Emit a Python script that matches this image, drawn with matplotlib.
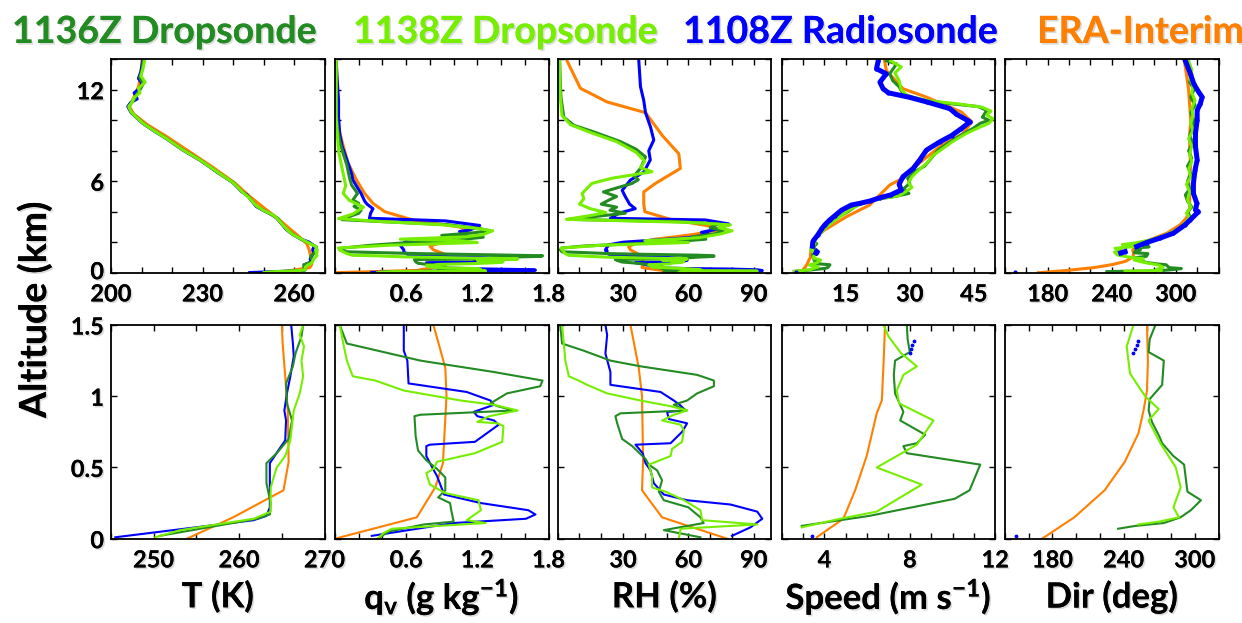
import numpy as np
import matplotlib
matplotlib.use('Agg')
import matplotlib.pyplot as plt
import matplotlib.patheffects as pe
import matplotlib.transforms as mtransforms

plt.rcParams['font.family'] = ['Lato', 'DejaVu Sans']
plt.rcParams['font.weight'] = 'bold'
plt.rcParams['mathtext.fontset'] = 'custom'
plt.rcParams['mathtext.rm'] = 'Lato:bold'
plt.rcParams['mathtext.it'] = 'Lato:bold'
plt.rcParams['mathtext.bf'] = 'Lato:bold'

# colours of the four soundings
c_1136 = '#228B22'
c_1138 = '#76EE00'
c_1108 = '#0000FF'
c_era = '#FF7F00'

# (value, altitude km) pairs
# temperature K
t_1108 = [(245.5,0.01),(261.7,0.13),(263.2,0.16),(263.6,0.22),(263.6,0.53),(264.6,0.62),(265.4,0.69),
          (265.5,0.83),(265.3,0.9),(265.6,1.02),(266.0,1.14),(266.4,1.28),(266.3,1.37),(266.1,1.5),
          (266.6,1.75),(265.0,2.0),(262.4,2.2),(259.6,2.5),(257.4,2.85),(255.3,3.35),(254.2,3.6),
          (252.8,3.8),(249.8,4.1),(247.6,4.35),(245.4,4.9),(244.6,5.1),(242.7,5.35),(240.0,5.9),
          (234.5,6.65),(229.0,7.4),(223.5,8.05),(218.1,8.8),(213.7,9.35),(210.4,9.8),(208.2,10.2),
          (206.6,10.5),(205.5,10.9),(206.4,11.15),(208.6,11.4),(207.6,11.8),(209.4,12.1),(210.2,12.4),
          (209.0,12.75),(209.8,13.2),(210.4,13.9)]
t_1136 = [(250.7,0.02),(262.1,0.14),(263.6,0.17),(263.7,0.25),(263.2,0.39),(263.2,0.53),(264.4,0.6),
          (265.8,0.7),(266.2,0.83),(265.6,0.95),(265.5,1.09),(266.3,1.21),(266.6,1.3),(267.3,1.42),
          (267.5,1.5),(267.3,1.7),(265.5,1.9),(262.6,2.16),(259.8,2.5),(257.5,2.85),(255.5,3.35),
          (254.8,3.55),(253.2,3.75),(250.0,4.1),(247.8,4.35),(245.0,5.0),(243.0,5.3),(240.2,5.9),
          (234.7,6.6),(229.2,7.4),(223.7,8.05),(218.3,8.8),(213.9,9.35),(210.6,9.8),(208.4,10.2),
          (206.8,10.5),(205.9,10.85),(206.5,11.1),(207.8,11.4),(208.4,11.7),(209.5,12.0),(210.6,12.4),
          (209.4,12.8),(210.2,13.3),(210.6,13.9)]
t_1138 = [(250.2,0.01),(253.1,0.06),(261.7,0.14),(263.7,0.19),(263.7,0.36),(264.4,0.5),(265.4,0.58),
          (266.0,0.69),(266.4,0.9),(267.1,1.02),(267.5,1.14),(267.3,1.25),(267.6,1.35),(267.1,1.43),
          (267.5,1.5),(267.2,1.7),(265.3,1.9),(262.5,2.2),(259.6,2.5),(257.6,2.85),(255.6,3.3),
          (254.3,3.6),(253.0,3.8),(249.9,4.1),(247.6,4.4),(245.1,4.95),(242.8,5.35),(240.1,5.9),
          (234.6,6.65),(229.1,7.4),(223.6,8.05),(218.2,8.8),(213.8,9.35),(210.5,9.8),(208.3,10.2),
          (206.6,10.55),(205.8,10.9),(207.0,11.2),(207.6,11.5),(209.5,11.8),(209.0,12.1),(211.2,12.5),
          (209.8,12.9),(210.5,13.4),(211.0,13.9)]
t_era = [(253.9,0.0),(259.3,0.15),(265.2,0.34),(265.8,0.54),(265.7,0.9),(265.4,1.14),(265.1,1.37),
         (265.0,1.5),(264.2,1.9),(261.5,2.4),(258.5,2.9),(255.0,3.5),(250.5,4.2),(245.5,5.0),
         (240.5,5.9),(233.5,6.9),(226.0,7.9),(218.5,8.9),(212.0,9.7),(207.5,10.4),(206.0,10.9),
         (207.5,11.5),(209.0,12.2),(209.8,13.0),(210.2,14.0)]

# water vapour mixing ratio g/kg
q_1108 = [(0.31,0.02),(1.0,0.11),(1.61,0.14),(1.69,0.17),(1.63,0.2),(1.23,0.25),(0.92,0.31),(0.86,0.44),
          (0.82,0.5),(0.77,0.58),(0.77,0.65),(0.8,0.66),(1.18,0.68),(1.38,0.8),(1.34,0.83),(1.2,0.86),
          (1.17,0.89),(1.34,0.94),(1.31,0.97),(1.11,1.03),(0.62,1.09),(0.61,1.25),(0.58,1.32),(0.58,1.5),
          (0.55,1.8),(0.6,2.05),(0.65,2.15),(0.9,2.25),(1.1,2.45),(1.05,2.7),(1.14,2.8),(1.22,3.1),
          (0.93,3.4),(0.29,3.57),(0.3,3.9),(0.32,4.2),(0.27,4.5),(0.25,4.7),(0.22,5.2),(0.18,5.7),
          (0.15,6.1),(0.14,6.5),(0.1,7.4),(0.06,8.3),(0.04,9.1),(0.03,10.2),(0.03,11.3),(0.02,12.5),
          (0.01,13.9)]
q_1136 = [(0.38,0.01),(0.45,0.05),(0.75,0.1),(1.0,0.12),(0.98,0.2),(0.97,0.25),(0.87,0.29),(0.93,0.34),
          (0.93,0.43),(0.86,0.49),(0.77,0.55),(0.7,0.62),(0.68,0.72),(0.67,0.86),(0.72,0.87),(1.51,0.9),
          (1.37,0.93),(1.31,0.95),(1.45,1.02),(1.73,1.07),(1.75,1.11),(1.34,1.17),(0.72,1.25),(0.1,1.37),
          (0.04,1.5),(0.05,1.6),(0.3,1.8),(0.66,2.0),(1.0,2.12),(1.25,2.33),(0.9,2.45),(1.15,2.6),
          (1.3,2.75),(1.22,2.9),(0.95,3.15),(0.4,3.35),(0.06,3.48),(0.12,3.68),(0.2,3.9),(0.22,4.1),
          (0.16,4.35),(0.2,4.55),(0.15,4.77),(0.19,5.2),(0.14,5.75),(0.12,6.3),(0.1,7.06),(0.07,7.8),
          (0.04,8.6),(0.02,9.5),(0.01,10.5),(0.01,12.0),(0.01,13.9)]
q_1138 = [(0.36,0.0),(0.41,0.04),(0.48,0.07),(1.27,0.11),(1.11,0.13),(1.23,0.2),(1.21,0.27),(0.93,0.32),
          (0.8,0.38),(0.77,0.46),(0.83,0.49),(0.86,0.54),(1.18,0.6),(1.41,0.68),(1.42,0.79),(1.37,0.81),
          (1.2,0.82),(1.3,0.86),(1.54,0.9),(1.34,0.94),(1.06,0.97),(0.58,1.04),(0.34,1.11),(0.15,1.14),
          (0.1,1.25),(0.07,1.37),(0.04,1.5),(0.03,1.62),(0.45,1.8),(1.2,1.98),(1.05,2.1),(0.55,2.2),
          (1.1,2.35),(1.25,2.5),(1.33,2.75),(1.18,2.92),(0.9,3.15),(0.4,3.35),(0.03,3.55),(0.15,3.85),
          (0.24,4.3),(0.12,4.75),(0.07,5.2),(0.09,5.7),(0.08,6.1),(0.05,7.2),(0.03,8.0),(0.02,9.0),
          (0.01,10.2),(0.01,12.0),(0.01,13.9)]
q_era = [(0.0,0.0),(0.69,0.15),(0.845,0.36),(0.91,0.53),(0.94,1.0),(0.93,1.2),(0.83,1.5),(0.8,1.75),
         (0.95,2.1),(1.12,2.75),(1.05,3.0),(0.66,3.45),(0.42,4.0),(0.32,4.55),(0.25,5.2),(0.18,6.1),
         (0.11,7.2),(0.07,8.3),(0.03,9.5),(0.01,10.5),(0.0,12.0),(0.0,14.0)]

# relative humidity %
rh_1108 = [(80,0.02),(88.5,0.08),(93.9,0.14),(91.6,0.19),(79.3,0.24),(59.4,0.27),(48.7,0.31),(44.1,0.39),
           (42.6,0.48),(40.3,0.53),(39,0.6),(35.7,0.66),(51.8,0.67),(57.1,0.75),(59.4,0.81),(51,0.84),
           (50.2,0.89),(58.7,0.9),(56,0.94),(53.3,0.97),(47.2,1.03),(24.2,1.08),(24.2,1.17),(21.9,1.3),
           (22.7,1.43),(21.9,1.5),(23.4,1.83),(30,2.0),(46.4,2.16),(60,2.3),(70,2.5),(66,2.65),(73,2.85),
           (78.5,3.2),(67.8,3.46),(24.2,3.57),(28,3.9),(35.6,4.2),(33,4.5),(31,5.0),(29.6,5.4),
           (33.4,6.08),(39.5,6.6),(42.5,7.4),(41.8,8.0),(44.1,8.7),(42.6,9.56),(40.3,10.5),(39.5,11.3),
           (38,12.2),(37.2,13.97)]
rh_1136 = [(65.5,0.01),(48.7,0.06),(67,0.11),(65.5,0.15),(60,0.22),(48.7,0.27),(46.4,0.33),(47.9,0.41),
           (45.6,0.48),(41.8,0.52),(40.3,0.56),(34.2,0.65),(29.6,0.7),(27.3,0.81),(26.5,0.86),(28.8,0.88),
           (59.4,0.9),(53.3,0.94),(59.4,0.97),(64,1.02),(71.7,1.07),(71.7,1.11),(64,1.15),(38,1.21),
           (24.2,1.25),(11.9,1.32),(2,1.37),(1.2,1.5),(2,1.62),(12,1.75),(35,1.9),(55,2.05),(68,2.2),
           (62,2.35),(72,2.55),(76,2.75),(70,2.95),(74,3.2),(55,3.35),(5,3.5),(18,3.7),(31,3.9),(24,4.1),
           (27,4.3),(20,4.5),(24,4.8),(27,5.0),(21,5.3),(28,5.6),(34,5.85),(37,6.1),(35,6.35),(38,6.84),
           (40.3,7.6),(36,8.1),(28.8,8.6),(16.5,9.24),(7.4,9.67),(2.8,10.2),(1.5,11.5),(1.2,12.4),
           (0.9,13.9)]
rh_1138 = [(55.6,0.0),(56.4,0.07),(91.6,0.1),(66.3,0.13),(65.5,0.2),(58,0.27),(49.5,0.33),(43.3,0.36),
           (43.3,0.44),(41.8,0.52),(51.8,0.58),(52.5,0.63),(57.1,0.68),(57.9,0.76),(56.4,0.8),(47.9,0.83),
           (53.3,0.87),(59.4,0.9),(51.8,0.93),(38,0.97),(22.7,1.02),(13.5,1.08),(9.6,1.11),(5.1,1.14),
           (3.5,1.25),(2.8,1.37),(2,1.5),(1.5,1.62),(20,1.8),(60,1.98),(40,2.1),(65,2.3),(75,2.55),
           (80,2.75),(74,2.95),(79.3,3.14),(60,3.3),(4,3.5),(15,3.75),(22,3.95),(15,4.2),(10,4.5),
           (12,4.85),(11.2,5.2),(15.7,5.86),(25,6.2),(43.3,6.62),(38,6.9),(40,7.3),(36,7.9),(27,8.6),
           (15,9.2),(6,9.7),(2,10.3),(1.2,11.5),(1,12.4),(0.8,13.9)]
rh_era = [(77.8,0.0),(47.9,0.15),(38.7,0.34),(39.2,0.55),(38.7,1.0),(37.2,1.2),(33.4,1.5),(32.6,1.7),
          (36,1.95),(45,2.2),(62,2.5),(73.9,2.81),(70,3.05),(51.7,3.5),(40,4.0),(39.5,4.5),(39.5,5.3),
          (44.9,5.86),(56.3,6.84),(55.6,7.8),(48,9.0),(40.3,10.5),(22.7,11.2),(10.4,12.1),(4.3,13.9)]

# wind speed m/s (nan = gap in the radiosonde winds)
nan = np.nan
ws_1108 = [(3.4,0.02),(nan,nan),(8.0,1.3),(8.05,1.33),(8.1,1.36),(8.2,1.39),(nan,nan),(7.2,1.75),
           (7.3,2.05),(8.5,2.5),(9.3,2.85),(10.1,3.14),(11.25,3.46),(12.5,3.75),(14,4.1),(16.3,4.44),
           (18.3,4.55),(20.6,4.7),(23,4.92),(25.5,5.1),(27,5.3),(28,5.42),(27.5,5.8),(28.4,6.3),
           (30.8,6.84),(32.3,7.39),(33.9,8.04),(37,8.58),(39.8,9.0),(42.1,9.46),(44.1,9.9),(40.9,10.4),
           (39.4,10.76),(34,11.2),(30,11.5),(25,11.8),(23.75,12.07),(23,12.5),(24.5,13.05),(22.2,13.38),
           (22.6,13.9)]
ws_1136 = [(2.94,0.09),(6.1,0.16),(10.1,0.28),(10.8,0.34),(11.3,0.52),(7.86,0.6),(7.7,0.65),(8.33,0.67),
           (8.72,0.73),(7.55,0.83),(7.7,0.89),(7.31,1.02),(7.25,1.15),(7.31,1.25),(8.0,1.31),(7.9,1.4),
           (7.86,1.5),(7.5,1.7),(8.2,1.9),(7.4,2.1),(8.6,2.5),(10,2.9),(11.5,3.3),(13,3.6),(15.5,4.0),
           (17.5,4.4),(20,4.65),(23,4.85),(26.5,5.0),(29.8,5.2),(28.5,5.5),(30,5.86),(29.5,6.2),(31,6.6),
           (33.5,7.0),(35,7.5),(36.6,8.04),(39,8.5),(42.5,9.1),(45,9.5),(46.5,9.8),(48.5,10.0),(47,10.2),
           (48,10.65),(46,10.9),(39,11.1),(32,11.35),(28.4,11.74),(27.5,12.2),(26,12.6),(25.3,13.05),
           (26.9,13.7),(24.5,13.9)]
ws_1138 = [(2.94,0.08),(4.73,0.14),(6.45,0.19),(8.56,0.38),(6.45,0.5),(8.33,0.66),(9.11,0.83),(7.5,0.95),
           (7.39,1.04),(7.7,1.15),(8.33,1.21),(7.6,1.3),(7.0,1.42),(6.77,1.5),(7.2,1.7),(7.8,1.95),
           (7.6,2.15),(9,2.55),(10.5,3.0),(12,3.35),(14,3.75),(16,4.15),(18.5,4.5),(21,4.75),(24,4.9),
           (27.5,5.05),(29,5.3),(30.5,5.6),(29.7,5.9),(30.5,6.3),(32,6.7),(34,7.2),(35.5,7.7),(37.5,8.1),
           (40,8.6),(43,9.1),(46,9.5),(48.5,9.8),(49.5,10.1),(48,10.35),(49,10.6),(47,10.85),(42,11.05),
           (34,11.3),(29.5,11.6),(28,12.0),(27.5,12.6),(26.5,13.1),(28,13.5),(25.5,13.9)]
ws_era = [(3.64,0.01),(4.89,0.14),(5.44,0.34),(5.98,0.58),(6.45,0.88),(6.69,0.97),(6.77,1.23),(6.84,1.5),
          (7.3,2.16),(10.1,2.81),(15.2,3.68),(20.6,4.44),(25.3,5.75),(27.7,6.1),(33.1,7.39),(37,8.26),
          (42.5,9.13),(44.5,9.9),(42.1,10.54),(33.9,11.52),(28.4,12.07),(24.5,13.27),(24.1,13.9)]

# wind direction deg
wd_1108 = [(149,0.02),(nan,nan),(248.3,1.3),(249.5,1.33),(251,1.36),(252.5,1.39),(nan,nan),(263.3,1.72),
           (272.7,1.98),(285.2,2.27),(297.7,2.59),(308.7,3.14),(313.4,3.46),(321.2,4.0),(318.4,4.12),
           (319.7,4.55),(316.5,5.2),(316.5,5.86),(318,6.73),(320,7.4),(318.4,8.3),(318.4,9.13),(320,10.0),
           (320,10.65),(323,11.1),(324.7,11.52),(321,11.9),(316.8,12.4),(313.7,13.05),(309,13.9)]
wd_1136 = [(235.4,0.07),(250,0.09),(273.9,0.11),(288,0.15),(296.7,0.2),(305.2,0.27),(293.8,0.33),(291,0.52),
           (282,0.58),(272.5,0.67),(270,0.72),(263.9,0.82),(261.1,0.9),(262,0.98),(272.5,1.08),(273.9,1.25),
           (261.1,1.31),(262,1.4),(266.8,1.5),(262,1.6),(275,1.7),(258,1.78),(268,1.9),(278,2.1),(288,2.35),
           (298,2.65),(306,2.95),(311,3.3),(314,3.6),(311,4.0),(315,4.3),(311,4.7),(309,5.1),(313,5.5),
           (311,6.0),(314,6.5),(311,7.0),(315,7.5),(312,8.0),(316,8.5),(313,9.0),(315,9.5),(317,10.0),
           (314,10.5),(318,11.0),(314,11.5),(317,12.0),(313,12.5),(315,13.0),(311,13.5),(309,13.9)]
wd_1138 = [(252.5,0.1),(270,0.12),(286.7,0.15),(282,0.22),(288.1,0.36),(284,0.5),(271,0.67),(261,0.83),
           (269.6,0.91),(258.2,1.0),(252.5,1.07),(245.4,1.16),(242.6,1.35),(248.3,1.5),(243,1.6),(255,1.68),
           (268,1.75),(250,1.85),(262,1.95),(276,2.15),(287,2.4),(296,2.65),(304,2.95),(309,3.3),(313,3.6),
           (310,3.9),(314,4.3),(311,4.8),(313,5.3),(310,5.8),(314,6.3),(312,6.8),(315,7.3),(313,7.8),
           (315,8.3),(312,8.8),(316,9.3),(314,9.8),(316,10.3),(315,10.8),(318,11.3),(315,11.8),(316,12.3),
           (313,12.8),(315,13.3),(312,13.9)]
wd_era = [(171.3,0.0),(198.4,0.15),(224,0.34),(241,0.54),(252.5,0.74),(256.8,0.9),(259.7,1.04),(260.5,1.25),
          (259.7,1.5),(263.3,1.83),(275.8,2.16),(291.5,2.59),(304,3.14),(310,3.6),(313,4.2),(313,5.0),
          (312,6.0),(314,7.0),(313,8.0),(313,9.0),(314,10.0),(313,11.0),(312,12.0),(310,13.0),(308,13.9)]

variables = [
    (t_1136, t_1138, t_1108, t_era),
    (q_1136, q_1138, q_1108, q_era),
    (rh_1136, rh_1138, rh_1108, rh_era),
    (ws_1136, ws_1138, ws_1108, ws_era),
    (wd_1136, wd_1138, wd_1108, wd_era),
]
xlabels = ['T (K)', r'q$_\mathregular{v}$ (g kg$^\mathregular{-1}$)', 'RH (%)',
           r'Speed (m s$^\mathregular{-1}$)', 'Dir (deg)']

# axis ranges: (xmin, xmax, tick step, labelled ticks)
top_x = [(200, 270, 10, [200, 230, 260]),
         (0, 1.8, 0.2, [0.6, 1.2, 1.8]),
         (0, 98, 10, [30, 60, 90]),
         (0, 50, 5, [15, 30, 45]),
         (140, 340, 20, [180, 240, 300])]
bot_x = [(245, 270, 5, [250, 260, 270]),
         (0, 1.8, 0.2, [0.6, 1.2, 1.8]),
         (0, 98, 10, [30, 60, 90]),
         (2, 12, 1, [4, 8, 12]),
         (140, 320, 20, [180, 240, 300])]

shadow = [pe.withSimplePatchShadow(offset=(1.2, -1.2), shadow_rgbFace='#999999', alpha=0.35), pe.Normal()]

W, H = 1242.0, 623.0
lefts = [111, 335, 557.7, 781.7, 1005]
aw = 213.5
rows = [(59.3, 272.7), (325, 538.7)]

fig = plt.figure(figsize=(12.42, 6.23), dpi=100)


def fmt(v):
    s = ('%.1f' % v) if abs(v - round(v)) > 1e-6 else '%d' % round(v)
    return s


for r, (ytop, ybot) in enumerate(rows):
    for c in range(5):
        ax = fig.add_axes([lefts[c] / W, 1 - ybot / H, aw / W, (ybot - ytop) / H])
        s1136, s1138, s1108, sera = [np.array(s, dtype=float) for s in variables[c]]
        lw = 2.2 if r == 0 else 1.5
        ax.plot(sera[:, 0], sera[:, 1], color=c_era, lw=lw)
        if c >= 3:
            ax.plot(s1136[:, 0], s1136[:, 1], color=c_1136, lw=lw)
            ax.plot(s1138[:, 0], s1138[:, 1], color=c_1138, lw=lw)
            if r == 0:
                ax.plot(s1108[:, 0], s1108[:, 1], color=c_1108, lw=3.6, marker='.', ms=4)
            else:
                ax.plot(s1108[:, 0], s1108[:, 1], color=c_1108, ls='none', marker='.', ms=3.5)
        else:
            ax.plot(s1108[:, 0], s1108[:, 1], color=c_1108, lw=lw)
            ax.plot(s1136[:, 0], s1136[:, 1], color=c_1136, lw=lw)
            ax.plot(s1138[:, 0], s1138[:, 1], color=c_1138, lw=lw)

        xmin, xmax, step, labelled = (top_x if r == 0 else bot_x)[c]
        ticks = np.arange(xmin, xmax + 1e-9, step)
        ax.set_xlim(xmin, xmax)
        ax.set_xticks(ticks)
        ax.set_xticklabels([fmt(t) if any(abs(t - l) < 1e-6 for l in labelled) else '' for t in ticks])
        if r == 0:
            ax.set_ylim(0, 14)
            yt = np.arange(0, 14.1, 2)
            ax.set_yticks(yt)
            ax.set_yticklabels([fmt(t) if t in (0, 6, 12) else '' for t in yt] if c == 0 else [])
        else:
            ax.set_ylim(0, 1.5)
            yt = [0, 0.5, 1, 1.5]
            ax.set_yticks(yt)
            ax.set_yticklabels(['0', '0.5', '1', '1.5'] if c == 0 else [])
        ax.tick_params(direction='in', length=4, width=1, top=True, right=True, labelsize=17)
        ax.tick_params(axis='x', pad=7)
        ax.tick_params(axis='y', pad=5)
        for lab in ax.get_xticklabels() + ax.get_yticklabels():
            lab.set_fontweight('bold')
            lab.set_path_effects(shadow)
        if r == 0 and c == 0:
            # lift the "0" a little so it clears the "200" below it
            lab0 = ax.get_yticklabels()[0]
            lab0.set_transform(lab0.get_transform() +
                               mtransforms.ScaledTranslation(0, 3 / 100, fig.dpi_scale_trans))
        for sp in ax.spines.values():
            sp.set_linewidth(1.3)
        if r == 1:
            fig.text((lefts[c] + aw / 2) / W, 1 - 597 / H, xlabels[c], ha='center', va='center',
                     fontsize=25, fontweight='bold', path_effects=shadow)

fig.text(34 / W, 1 - 310 / H, 'Altitude (km)', rotation=90, ha='center', va='center',
         fontsize=27, fontweight='bold', path_effects=shadow)

titles = [('1136Z Dropsonde', c_1136, 12), ('1138Z Dropsonde', c_1138, 353),
          ('1108Z Radiosonde', c_1108, 683), ('ERA-Interim', c_era, 1037)]
for txt, col, x in titles:
    fig.text(x / W, 1 - 43 / H, txt, color=col, ha='left', va='baseline',
             fontsize=27, fontweight='bold', path_effects=shadow)

fig.savefig('out.png', dpi=100)
